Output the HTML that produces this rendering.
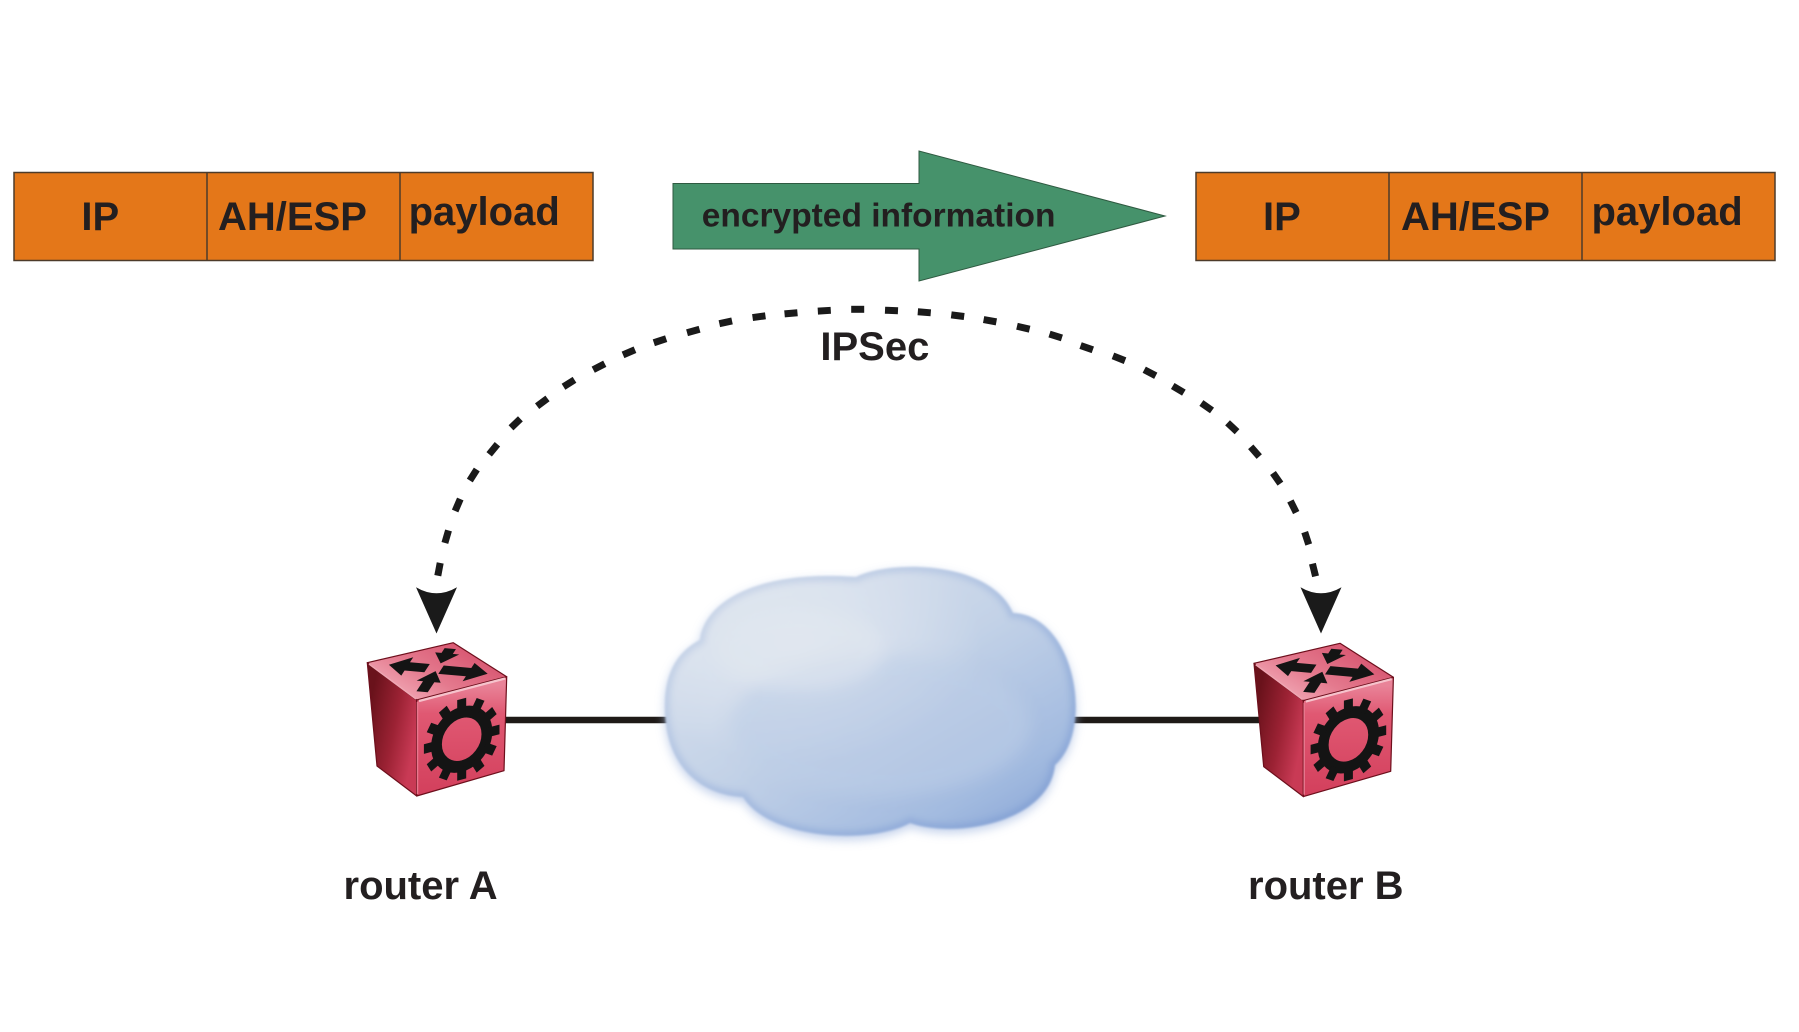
<!DOCTYPE html>
<html>
<head>
<meta charset="utf-8">
<style>
html,body{margin:0;padding:0;background:#fff;}
svg{display:block;}
text{font-family:"Liberation Sans",Arial,sans-serif;font-weight:bold;fill:#231f20;}
</style>
</head>
<body>
<svg width="1799" height="1032" viewBox="0 0 1799 1032" xmlns="http://www.w3.org/2000/svg">
<defs>
  <linearGradient id="cloudBase" x1="0.1" y1="0.05" x2="0.95" y2="1">
    <stop offset="0" stop-color="#dde4ee"/>
    <stop offset="0.45" stop-color="#c3d2e7"/>
    <stop offset="0.8" stop-color="#a3bbe0"/>
    <stop offset="1" stop-color="#86a4d6"/>
  </linearGradient>
  <radialGradient id="cloudHi" cx="0.32" cy="0.28" r="0.45">
    <stop offset="0" stop-color="#e3e9f1" stop-opacity="0.95"/>
    <stop offset="1" stop-color="#e3e9f1" stop-opacity="0"/>
  </radialGradient>
  <linearGradient id="rimGrad" x1="0" y1="0" x2="1" y2="1">
    <stop offset="0" stop-color="#c8d4e6"/>
    <stop offset="0.6" stop-color="#93addb"/>
    <stop offset="1" stop-color="#7796cf"/>
  </linearGradient>
  <filter id="soft" x="-10%" y="-10%" width="120%" height="120%">
    <feGaussianBlur stdDeviation="1.1"/>
  </filter>
  <filter id="blur8" x="-30%" y="-30%" width="160%" height="160%">
    <feGaussianBlur stdDeviation="8"/>
  </filter>
  <filter id="blur3" x="-10%" y="-10%" width="120%" height="120%">
    <feGaussianBlur stdDeviation="3"/>
  </filter>
  <filter id="glow" x="-20%" y="-20%" width="140%" height="140%">
    <feGaussianBlur stdDeviation="5"/>
  </filter>
  <clipPath id="cloudClip">
    <path d="M743,797 C700,795 664,765 665,705 C665,670 680,650 700,640 C705,600 760,570 856,577 C890,560 990,560 1013,613 C1075,615 1095,730 1055,765 C1050,820 960,840 910,823 C870,845 770,840 743,797 Z"/>
  </clipPath>
  <linearGradient id="leftFace" gradientUnits="userSpaceOnUse" x1="367" y1="720" x2="417" y2="730">
    <stop offset="0" stop-color="#6a121b"/>
    <stop offset="0.55" stop-color="#9c2234"/>
    <stop offset="1" stop-color="#c93a55"/>
  </linearGradient>
  <linearGradient id="rightFace" gradientUnits="userSpaceOnUse" x1="460" y1="685" x2="460" y2="800">
    <stop offset="0" stop-color="#e98398"/>
    <stop offset="0.25" stop-color="#e05872"/>
    <stop offset="1" stop-color="#d23e5b"/>
  </linearGradient>
  <linearGradient id="topFace" gradientUnits="userSpaceOnUse" x1="453" y1="643" x2="420" y2="700">
    <stop offset="0" stop-color="#d95a74"/>
    <stop offset="0.6" stop-color="#e47a8e"/>
    <stop offset="1" stop-color="#ee9dac"/>
  </linearGradient>
  <g id="router">
    <path d="M367.3,662.7 L416.7,700 L416.7,796 L377,766 Z" fill="url(#leftFace)" stroke="#6d0f1c" stroke-width="1.2" stroke-linejoin="round"/>
    <path d="M416.7,700 L506.7,676.7 L504,770.7 L416.7,796 Z" fill="url(#rightFace)" stroke="#6d0f1c" stroke-width="1.2" stroke-linejoin="round"/>
    <path d="M367.3,662.7 L453.3,642.7 L506.7,676.7 L416.7,700 Z" fill="url(#topFace)" stroke="#6d0f1c" stroke-width="1.2" stroke-linejoin="round"/>
    <path d="M419,701 L505,678.5" stroke="#f6c3cc" stroke-width="2.2" fill="none"/>
    <path d="M417.5,702 L417.5,794" stroke="#e8788e" stroke-width="1.5" fill="none"/>
    <path d="M369,664 L416,699" stroke="#f0a7b4" stroke-width="1.5" fill="none"/>
    <g transform="matrix(0.707,0.062,-0.193,0.295,436,670.5)" fill="#141414">
      <polygon points="-14,-19 -42,-19 -42,-36 -68,-5 -42,26 -42,9 -14,9"/>
      <polygon points="6,-18 45,-18 45,-35 72,-4 45,27 45,10 6,10"/>
      <polygon points="-8,-74 8,-74 8,-58 17,-58 0,-24 -17,-58 -8,-58"/>
      <polygon points="-8,72 8,72 8,38 17,38 0,2 -17,38 -8,38"/>
    </g>
    <g transform="matrix(0.9,-0.233,0,0.96,416.7,700)" fill="#141414">
      <circle cx="50" cy="53" r="28" fill="none" stroke="#141414" stroke-width="12"/>
      <rect x="45" y="11" width="10" height="13" transform="rotate(0 50 53)"/>
      <rect x="45" y="11" width="10" height="13" transform="rotate(30 50 53)"/>
      <rect x="45" y="11" width="10" height="13" transform="rotate(60 50 53)"/>
      <rect x="45" y="11" width="10" height="13" transform="rotate(90 50 53)"/>
      <rect x="45" y="11" width="10" height="13" transform="rotate(120 50 53)"/>
      <rect x="45" y="11" width="10" height="13" transform="rotate(150 50 53)"/>
      <rect x="45" y="11" width="10" height="13" transform="rotate(180 50 53)"/>
      <rect x="45" y="11" width="10" height="13" transform="rotate(210 50 53)"/>
      <rect x="45" y="11" width="10" height="13" transform="rotate(240 50 53)"/>
      <rect x="45" y="11" width="10" height="13" transform="rotate(270 50 53)"/>
      <rect x="45" y="11" width="10" height="13" transform="rotate(300 50 53)"/>
      <rect x="45" y="11" width="10" height="13" transform="rotate(330 50 53)"/>
    </g>
  </g>
</defs>

<!-- Left packet -->
<rect x="14" y="172.5" width="579" height="88" fill="#e47719" stroke="#4d3b2a" stroke-width="1.5"/>
<line x1="207" y1="172.5" x2="207" y2="260.5" stroke="#4d3b2a" stroke-width="1.5"/>
<line x1="400" y1="172.5" x2="400" y2="260.5" stroke="#4d3b2a" stroke-width="1.5"/>
<text x="81.4" y="230" font-size="40">IP</text>
<text x="218" y="230" font-size="40">AH/ESP</text>
<text x="408.6" y="225" font-size="40">payload</text>

<!-- Right packet -->
<rect x="1196" y="172.5" width="579" height="88" fill="#e47719" stroke="#4d3b2a" stroke-width="1.5"/>
<line x1="1389" y1="172.5" x2="1389" y2="260.5" stroke="#4d3b2a" stroke-width="1.5"/>
<line x1="1582" y1="172.5" x2="1582" y2="260.5" stroke="#4d3b2a" stroke-width="1.5"/>
<text x="1263" y="230" font-size="40">IP</text>
<text x="1401" y="230" font-size="40">AH/ESP</text>
<text x="1591.5" y="225" font-size="40">payload</text>

<!-- Green arrow -->
<polygon points="673,183.5 919,183.5 919,151 1165,216 919,281 919,249 673,249" fill="#46926b" stroke="#2f5a41" stroke-width="1"/>
<text x="701.8" y="226.7" font-size="33.5">encrypted information</text>

<!-- IPSec dotted arc -->
<g fill="#1a1a1a">
  <rect x="-6.5" y="-3.5" width="13" height="7" transform="translate(439 569.3) rotate(-79.3)"/>
  <rect x="-6.5" y="-3.5" width="13" height="7" transform="translate(446.7 536.7) rotate(-73.8)"/>
  <rect x="-6.5" y="-3.5" width="13" height="7" transform="translate(457.7 505) rotate(-66.7)"/>
  <rect x="-6.5" y="-3.5" width="13" height="7" transform="translate(473.3 475) rotate(-57.4)"/>
  <rect x="-6.5" y="-3.5" width="13" height="7" transform="translate(493.3 449.3) rotate(-50.6)"/>
  <rect x="-6.5" y="-3.5" width="13" height="7" transform="translate(515.7 423.3) rotate(-43.8)"/>
  <rect x="-6.5" y="-3.5" width="13" height="7" transform="translate(542.3 402.3) rotate(-36.9)"/>
  <rect x="-6.5" y="-3.5" width="13" height="7" transform="translate(569 383.3) rotate(-32.1)"/>
  <rect x="-6.5" y="-3.5" width="13" height="7" transform="translate(599 366.7) rotate(-27.3)"/>
  <rect x="-6.5" y="-3.5" width="13" height="7" transform="translate(629 352.3) rotate(-23.1)"/>
  <rect x="-6.5" y="-3.5" width="13" height="7" transform="translate(660 340.7) rotate(-18.3)"/>
  <rect x="-6.5" y="-3.5" width="13" height="7" transform="translate(693.3 331) rotate(-15.6)"/>
  <rect x="-6.5" y="-3.5" width="13" height="7" transform="translate(725.7 322.3) rotate(-12.3)"/>
  <rect x="-6.5" y="-3.5" width="13" height="7" transform="translate(759 316.7) rotate(-7.8)"/>
  <rect x="-6.5" y="-3.5" width="13" height="7" transform="translate(791 313.3) rotate(-5.2)"/>
  <rect x="-6.5" y="-3.5" width="13" height="7" transform="translate(824.3 310.7) rotate(-3.4)"/>
  <rect x="-6.5" y="-3.5" width="13" height="7" transform="translate(857.7 309.3) rotate(0)"/>
  <rect x="-6.5" y="-3.5" width="13" height="7" transform="translate(891.5 310.5) rotate(2.6)"/>
  <rect x="-6.5" y="-3.5" width="13" height="7" transform="translate(924.3 312.3) rotate(4.5)"/>
  <rect x="-6.5" y="-3.5" width="13" height="7" transform="translate(957.7 315.7) rotate(7.3)"/>
  <rect x="-6.5" y="-3.5" width="13" height="7" transform="translate(990 320.7) rotate(10.4)"/>
  <rect x="-6.5" y="-3.5" width="13" height="7" transform="translate(1023.3 327.7) rotate(13.1)"/>
  <rect x="-6.5" y="-3.5" width="13" height="7" transform="translate(1055.7 336) rotate(17.5)"/>
  <rect x="-6.5" y="-3.5" width="13" height="7" transform="translate(1086.7 347.7) rotate(19.4)"/>
  <rect x="-6.5" y="-3.5" width="13" height="7" transform="translate(1119 358.3) rotate(21.5)"/>
  <rect x="-6.5" y="-3.5" width="13" height="7" transform="translate(1150 372.7) rotate(27.6)"/>
  <rect x="-6.5" y="-3.5" width="13" height="7" transform="translate(1178.3 389.3) rotate(31)"/>
  <rect x="-6.5" y="-3.5" width="13" height="7" transform="translate(1206.7 406.7) rotate(35.1)"/>
  <rect x="-6.5" y="-3.5" width="13" height="7" transform="translate(1232.3 427.3) rotate(43)"/>
  <rect x="-6.5" y="-3.5" width="13" height="7" transform="translate(1255 451.7) rotate(49)"/>
  <rect x="-6.5" y="-3.5" width="13" height="7" transform="translate(1276.7 478.3) rotate(55.1)"/>
  <rect x="-6.5" y="-3.5" width="13" height="7" transform="translate(1293.3 506.7) rotate(63.4)"/>
  <rect x="-6.5" y="-3.5" width="13" height="7" transform="translate(1306.7 538.3) rotate(71.9)"/>
  <rect x="-6.5" y="-3.5" width="13" height="7" transform="translate(1314 570) rotate(76.1)"/>
</g>
<path d="M416,587.3 Q436.5,599.3 457,587.3 L436.5,633.5 Z" fill="#1a1a1a"/>
<path d="M1300.5,587.3 Q1321,599.3 1341.5,587.3 L1321,633.5 Z" fill="#1a1a1a"/>

<text x="820.4" y="360" font-size="40">IPSec</text>

<!-- connection lines -->
<line x1="500" y1="720" x2="700" y2="720" stroke="#1f1a17" stroke-width="6.5"/>
<line x1="1040" y1="720" x2="1265" y2="720" stroke="#1f1a17" stroke-width="6.5"/>

<!-- cloud -->
<path d="M743,797 C700,795 664,765 665,705 C665,670 680,650 700,640 C705,600 760,570 856,577 C890,560 990,560 1013,613 C1075,615 1095,730 1055,765 C1050,820 960,840 910,823 C870,845 770,840 743,797 Z" fill="#a9bde2" opacity="0.7" filter="url(#glow)" transform="translate(0,4)"/>
<g filter="url(#soft)">
  <path d="M743,797 C700,795 664,765 665,705 C665,670 680,650 700,640 C705,600 760,570 856,577 C890,560 990,560 1013,613 C1075,615 1095,730 1055,765 C1050,820 960,840 910,823 C870,845 770,840 743,797 Z" fill="url(#cloudBase)"/>
  <path d="M743,797 C700,795 664,765 665,705 C665,670 680,650 700,640 C705,600 760,570 856,577 C890,560 990,560 1013,613 C1075,615 1095,730 1055,765 C1050,820 960,840 910,823 C870,845 770,840 743,797 Z" fill="url(#cloudHi)"/>
  <g clip-path="url(#cloudClip)">
    <path d="M743,797 C700,795 664,765 665,705 C665,670 680,650 700,640 C705,600 760,570 856,577 C890,560 990,560 1013,613 C1075,615 1095,730 1055,765 C1050,820 960,840 910,823 C870,845 770,840 743,797 Z" fill="none" stroke="url(#rimGrad)" stroke-width="10" opacity="0.6" filter="url(#blur3)"/>
    <ellipse cx="880" cy="725" rx="150" ry="70" fill="#bccde6" opacity="0.55" filter="url(#blur8)"/>
    <ellipse cx="800" cy="650" rx="85" ry="40" fill="#e0e6ef" opacity="0.6" filter="url(#blur8)"/>
  </g>
</g>

<!-- routers -->
<use href="#router"/>
<use href="#router" transform="translate(886.7,0.6)"/>

<text x="343.5" y="899" font-size="40">router A</text>
<text x="1248" y="899" font-size="40">router B</text>
</svg>
</body>
</html>
